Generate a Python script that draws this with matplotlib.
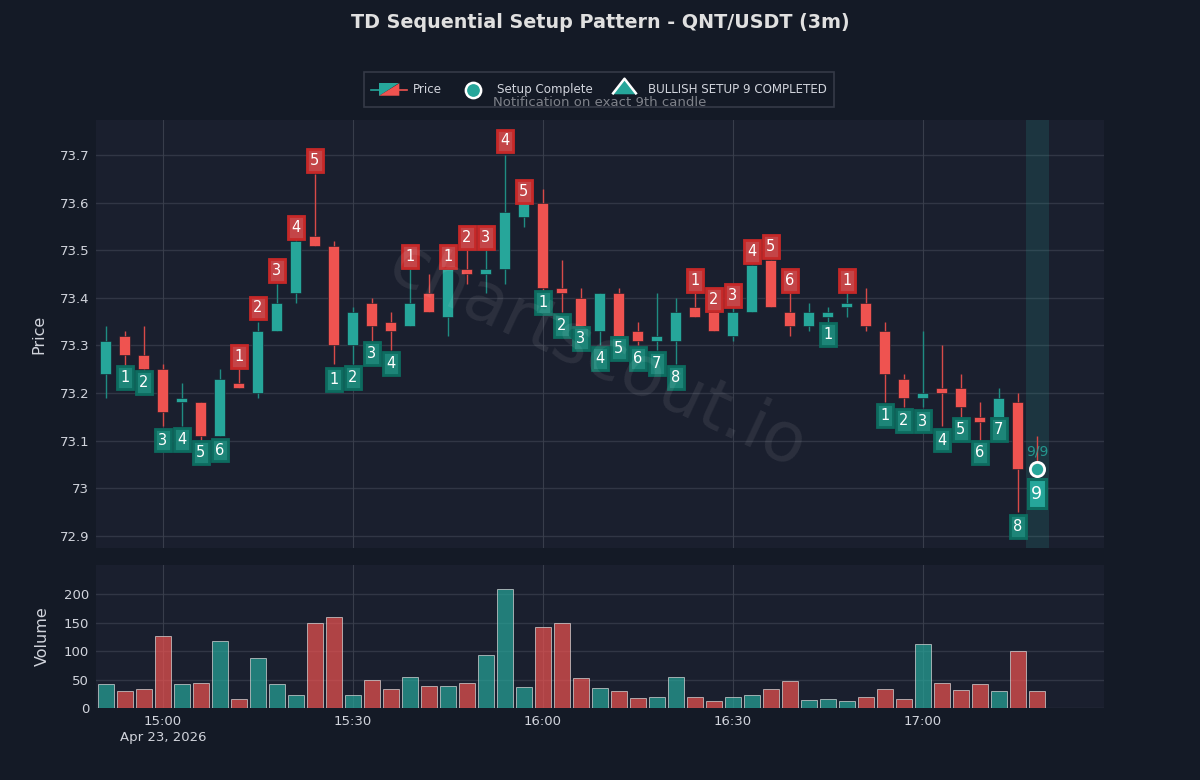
import matplotlib
matplotlib.use('Agg')
import matplotlib.pyplot as plt
import matplotlib.dates as mdates
import pandas as pd
from matplotlib.legend_handler import HandlerBase
from matplotlib.lines import Line2D
from matplotlib.patches import Patch, Polygon
from matplotlib.path import Path

# Candles
opens = [73.24, 73.32, 73.28, 73.25, 73.18, 73.18, 73.11, 73.22, 73.20, 73.33,
         73.41, 73.53, 73.51, 73.30, 73.39, 73.35, 73.34, 73.41, 73.36, 73.46,
         73.45, 73.46, 73.57, 73.60, 73.42, 73.40, 73.33, 73.41, 73.33, 73.31,
         73.31, 73.38, 73.37, 73.32, 73.37, 73.48, 73.37, 73.34, 73.36, 73.38,
         73.39, 73.33, 73.23, 73.19, 73.21, 73.21, 73.15, 73.15, 73.18, 73.05]
highs = [73.34, 73.33, 73.34, 73.26, 73.22, 73.18, 73.25, 73.25, 73.35, 73.43,
         73.53, 73.66, 73.52, 73.38, 73.40, 73.37, 73.46, 73.45, 73.47, 73.50,
         73.50, 73.70, 73.60, 73.63, 73.48, 73.42, 73.41, 73.42, 73.35, 73.41,
         73.40, 73.41, 73.38, 73.38, 73.47, 73.48, 73.41, 73.39, 73.38, 73.41,
         73.42, 73.35, 73.24, 73.33, 73.30, 73.24, 73.18, 73.21, 73.20, 73.11]
lows = [73.19, 73.25, 73.22, 73.13, 73.13, 73.10, 73.11, 73.21, 73.19, 73.33,
        73.39, 73.51, 73.26, 73.26, 73.31, 73.29, 73.34, 73.37, 73.32, 73.43,
        73.41, 73.43, 73.55, 73.41, 73.37, 73.33, 73.30, 73.31, 73.30, 73.29,
        73.26, 73.36, 73.33, 73.31, 73.37, 73.38, 73.32, 73.33, 73.35, 73.36,
        73.33, 73.18, 73.17, 73.17, 73.13, 73.15, 73.10, 73.15, 72.95, 73.02]
closes = [73.31, 73.28, 73.25, 73.16, 73.19, 73.11, 73.23, 73.21, 73.33, 73.39,
          73.52, 73.51, 73.30, 73.37, 73.34, 73.33, 73.39, 73.37, 73.46, 73.45,
          73.46, 73.58, 73.60, 73.42, 73.41, 73.34, 73.41, 73.32, 73.31, 73.32,
          73.37, 73.36, 73.33, 73.37, 73.47, 73.38, 73.34, 73.37, 73.37, 73.39,
          73.34, 73.24, 73.19, 73.20, 73.20, 73.17, 73.14, 73.19, 73.04, 73.04]
volumes = [43, 30, 34, 126, 42, 44, 117, 16, 88, 42,
           23, 150, 159, 23, 50, 33, 54, 39, 39, 44,
           93, 208, 36, 143, 150, 53, 35, 29, 17, 19,
           54, 20, 13, 20, 22, 34, 48, 14, 15, 13,
           19, 33, 16, 112, 44, 31, 43, 30, 100, 29]

# Setup counts: (candle index, count, price of the label)
sell_counts = [(7, 1, 73.276), (8, 2, 73.379), (9, 3, 73.457), (10, 4, 73.548),
               (11, 5, 73.689), (16, 1, 73.487), (18, 1, 73.487), (19, 2, 73.528),
               (20, 3, 73.528), (21, 4, 73.7305), (22, 5, 73.625), (31, 1, 73.436),
               (32, 2, 73.396), (33, 3, 73.406), (34, 4, 73.497), (35, 5, 73.508),
               (36, 6, 73.436), (39, 1, 73.436)]
buy_counts = [(1, 1, 73.232), (2, 2, 73.222), (3, 3, 73.101), (4, 4, 73.103),
              (5, 5, 73.074), (6, 6, 73.08), (12, 1, 73.229), (13, 2, 73.232),
              (14, 3, 73.283), (15, 4, 73.263), (23, 1, 73.391), (24, 2, 73.343),
              (25, 3, 73.314), (26, 4, 73.272), (27, 5, 73.293), (28, 6, 73.272),
              (29, 7, 73.263), (30, 8, 73.232), (38, 1, 73.323), (41, 1, 73.152),
              (42, 2, 73.143), (43, 3, 73.141), (44, 4, 73.101), (45, 5, 73.124),
              (46, 6, 73.074), (47, 7, 73.124), (48, 8, 72.919)]
last_count_price = 72.988
marker_price = 73.04

price_ticks = [72.9, 73.0, 73.1, 73.2, 73.3, 73.4, 73.5, 73.6, 73.7]
price_labels = ['72.9', '73', '73.1', '73.2', '73.3', '73.4', '73.5', '73.6', '73.7']
volume_ticks = [0, 50, 100, 150, 200]
time_ticks = ['2026-04-23 15:00', '2026-04-23 15:30', '2026-04-23 16:00',
              '2026-04-23 16:30', '2026-04-23 17:00']
time_labels = ['15:00\nApr 23, 2026', '15:30', '16:00', '16:30', '17:00']

BG = '#141a26'
PANEL = '#1a1f2e'
GRID = '#3a3f4d'
TEXT = '#d1d4dc'
UP = '#26a69a'
DOWN = '#ef5350'

times = mdates.date2num(pd.date_range('2026-04-23 14:51', periods=len(opens), freq='3min'))
minute = 1 / 1440


class CandleHandle(HandlerBase):
    def create_artists(self, legend, orig, xdescent, ydescent, width, height, fontsize, trans):
        x0 = -xdescent
        y0 = -ydescent
        mid = y0 + height / 2
        left = x0 + width * 0.22
        right = x0 + width * 0.78
        low = y0 + height * 0.2
        high = y0 + height * 0.8
        return [
            Line2D([x0, left], [mid, mid], color=UP, lw=1.2, transform=trans),
            Line2D([right, x0 + width], [mid, mid], color=DOWN, lw=1.2, transform=trans),
            Polygon([[left, low], [left, high], [right, high]], color=UP, lw=0, transform=trans),
            Polygon([[left, low], [right, high], [right, low]], color=DOWN, lw=0, transform=trans),
        ]


class CircleHandle(HandlerBase):
    # sits lower than the default marker handle
    def create_artists(self, legend, orig, xdescent, ydescent, width, height, fontsize, trans):
        x = -xdescent + width / 2
        y = -ydescent + height * 0.5
        return [Line2D([x], [y], marker='o', ls='none', ms=11, mfc=UP, mec='white', mew=1.8,
                       transform=trans)]


class TallBox:
    # count labels are taller than a plain square pad gives
    def __init__(self, pad_x, pad_y):
        self.pad_x = pad_x
        self.pad_y = pad_y

    def __call__(self, x0, y0, width, height, mutation_size):
        dx = self.pad_x * mutation_size
        dy = self.pad_y * mutation_size
        left, right = x0 - dx, x0 + width + dx
        low, high = y0 - dy, y0 + height + dy
        return Path([(left, low), (right, low), (right, high), (left, high), (left, low)], closed=True)


fig = plt.figure(figsize=(12, 7.8), dpi=100, facecolor=BG)
ax1 = fig.add_axes([96 / 1200, 1 - 548 / 780, 1008 / 1200, 428 / 780], facecolor=PANEL)
ax2 = fig.add_axes([96 / 1200, 1 - 708 / 780, 1008 / 1200, 143 / 780], facecolor=PANEL, sharex=ax1)

colors = [UP if c >= o else DOWN for o, c in zip(opens, closes)]
wick_colors = ['#1f8c82' if c == UP else '#d84a48' for c in colors]
tops = [max(o, c) for o, c in zip(opens, closes)]
bottoms = [min(o, c) for o, c in zip(opens, closes)]

# highlight of the completed setup
ax1.axvspan(times[-1] - 1.7 * minute, times[-1] + 1.9 * minute, color=UP, alpha=0.17, lw=0, zorder=1)

ax1.vlines(times, lows, highs, colors=wick_colors, lw=1.0, zorder=3)
ax1.bar(times, [t - b for t, b in zip(tops, bottoms)], bottom=bottoms, width=1.75 * minute,
        color=colors, edgecolor='#151a26', linewidth=0.4, zorder=4)

for counts, face, edge in [(sell_counts, '#c44548', '#c62828'), (buy_counts, '#1d8578', '#0d6b5f')]:
    for idx, num, price in counts:
        ax1.text(times[idx], price, str(num), color='white', fontsize=10.5, ha='center',
                 va='center', zorder=6,
                 bbox=dict(boxstyle=TallBox(0.23, 0.27), facecolor=face, edgecolor=edge, linewidth=2))

ax1.text(times[-1], last_count_price, '9', color='white', fontsize=12.5, ha='center', va='center',
         zorder=6, bbox=dict(boxstyle=TallBox(0.2, 0.3), facecolor=UP, edgecolor='#0d6b5f', linewidth=2.2))
ax1.scatter([times[-1]], [marker_price], s=105, color=UP, edgecolor='white', linewidth=2, zorder=7)
ax1.text(times[-1], 73.077, '9/9', color=UP, fontsize=10, alpha=0.85, ha='center', va='center', zorder=7)

# watermark sits over the marks
ax1.text(0.497, 0.449, 'chartscout.io', transform=ax1.transAxes, rotation=-25,
         fontsize=50, color='white', alpha=0.08, ha='center', va='center', zorder=8)

ax2.bar(times, volumes, width=2.48 * minute, color=colors, alpha=0.7,
        edgecolor='white', linewidth=0.7, zorder=3)
for bar in ax2.patches:
    bar.set_edgecolor((0.85, 0.85, 0.85, 0.4))

ax1.set_ylim(72.8737, 73.7747)
ax1.set_yticks(price_ticks)
ax1.set_yticklabels(price_labels)
ax2.set_ylim(0, 251)
ax2.set_yticks(volume_ticks)
ax2.set_xlim(times[0] - 1.55 * minute, times[0] + 157.6 * minute)
ax2.set_xticks(mdates.date2num(pd.to_datetime(time_ticks)))
ax2.set_xticklabels(time_labels, linespacing=1.35)
ax1.tick_params(labelbottom=False)

for ax in (ax1, ax2):
    ax.grid(True, axis='y', color=GRID, linewidth=1.0, alpha=0.75, zorder=0)
    ax.grid(True, axis='x', color=GRID, linewidth=0.8, alpha=0.95, zorder=0)
    ax.set_axisbelow(True)
    ax.tick_params(length=0, colors=TEXT, labelsize=9.5, pad=5)
    for spine in ax.spines.values():
        spine.set_visible(False)

ax1.set_ylabel('Price', color=TEXT, fontsize=11.5, labelpad=9.7)
ax2.set_ylabel('Volume', color=TEXT, fontsize=11.5, labelpad=9.6)

fig.text(0.5, 1 - 22 / 780, 'TD Sequential Setup Pattern - QNT/USDT (3m)', color='#e0e0e0',
         fontsize=13.8, fontweight='bold', ha='center', va='center')

wide_triangle = [(-1, -0.64), (0, 0.64), (1, -0.64)]
circle_handle = Line2D([], [], label='Setup Complete')
handles = [Patch(label='Price'),
           circle_handle,
           Line2D([], [], marker=wide_triangle, ls='none', ms=17.5, mfc=UP, mec='white', mew=1.8,
                  label='BULLISH SETUP 9 COMPLETED')]
leg = fig.legend(handles=handles, handler_map={Patch: CandleHandle(), circle_handle: CircleHandle()},
                 ncol=3, fontsize=8.6,
                 loc='center', bbox_to_anchor=(0.4992, 1 - 89.5 / 780), frameon=True, fancybox=False,
                 facecolor=BG, edgecolor='#3d4250', labelcolor=TEXT, handlelength=3,
                 handleheight=2.3, columnspacing=1.1, handletextpad=0.5, borderpad=0.6)
leg.get_frame().set_linewidth(1.2)
fig.text(0.5, 1 - 103 / 780, 'Notification on exact 9th candle', color='#7f828a', fontsize=9.5,
         ha='center', va='center', zorder=10)

fig.savefig('out.png', dpi=100, facecolor=BG)
